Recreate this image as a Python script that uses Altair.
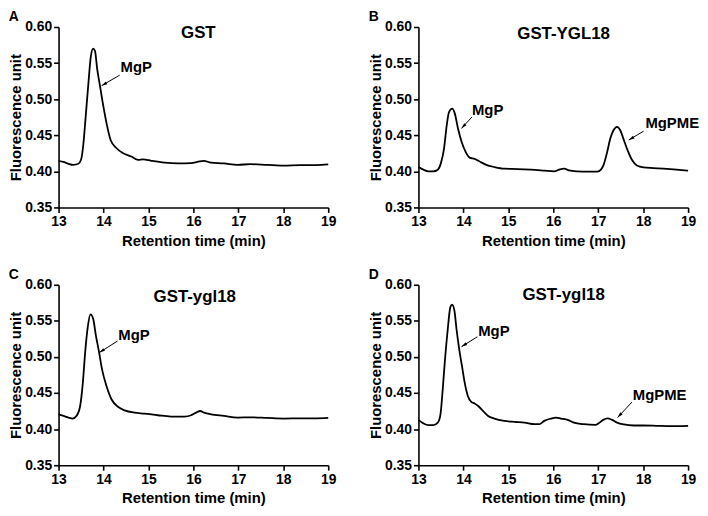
import math
import altair as alt
import pandas as pd

FONT = "Liberation Sans"

# ---------------- data ----------------
A_time = [13.00, 13.11, 13.22, 13.33, 13.44, 13.50, 13.55, 13.60, 13.66, 13.72, 13.77, 13.81, 13.86,
          13.92, 14.00, 14.07, 14.16, 14.29, 14.44, 14.62, 14.77, 14.88, 15.06, 15.36, 15.65, 15.95,
          16.09, 16.23, 16.39, 16.68, 16.98, 17.27, 17.64, 18.01, 18.38, 18.74, 19.00]
A_signal = [0.4146, 0.413, 0.4105, 0.409, 0.4105, 0.416, 0.4365, 0.473, 0.519, 0.560, 0.570, 0.567,
            0.5415, 0.519, 0.489, 0.466, 0.443, 0.432, 0.425, 0.4205, 0.416, 0.4165, 0.4146, 0.412,
            0.411, 0.4115, 0.413, 0.4146, 0.412, 0.411, 0.409, 0.410, 0.409, 0.408, 0.4087, 0.4087, 0.4096]

B_time = [13.00, 13.11, 13.22, 13.33, 13.43, 13.50, 13.57, 13.63, 13.68, 13.75, 13.81, 13.88, 13.96,
          14.05, 14.14, 14.25, 14.36, 14.51, 14.69, 14.91, 15.21, 15.50, 15.80, 16.02, 16.13, 16.24,
          16.35, 16.53, 16.76, 16.98, 17.06, 17.12, 17.20, 17.27, 17.34, 17.42, 17.49, 17.57, 17.65,
          17.75, 17.86, 18.01, 18.23, 18.45, 18.74, 19.00]
B_signal = [0.406, 0.4023, 0.400, 0.400, 0.4023, 0.4114, 0.432, 0.464, 0.482, 0.4868, 0.480, 0.4594,
            0.441, 0.427, 0.419, 0.4174, 0.4137, 0.409, 0.406, 0.4037, 0.4032, 0.4023, 0.401, 0.400,
            0.4023, 0.4037, 0.4014, 0.400, 0.3995, 0.3995, 0.4023, 0.409, 0.427, 0.4457, 0.457, 0.4616,
            0.457, 0.4434, 0.4297, 0.416, 0.4082, 0.4055, 0.4046, 0.4037, 0.4023, 0.401]

C_time = [13.00, 13.11, 13.22, 13.31, 13.40, 13.48, 13.54, 13.59, 13.65, 13.71, 13.77, 13.83, 13.90,
          13.97, 14.07, 14.18, 14.33, 14.47, 14.69, 14.91, 15.21, 15.50, 15.80, 15.95, 16.06, 16.15,
          16.24, 16.39, 16.68, 16.98, 17.27, 17.64, 18.01, 18.38, 18.74, 19.00]
C_signal = [0.4205, 0.4183, 0.416, 0.4146, 0.4183, 0.432, 0.464, 0.505, 0.5416, 0.559, 0.553, 0.530,
            0.507, 0.482, 0.459, 0.441, 0.4306, 0.426, 0.4228, 0.4215, 0.4192, 0.4174, 0.4174, 0.4192,
            0.4228, 0.4251, 0.4228, 0.4205, 0.4183, 0.416, 0.4164, 0.4155, 0.4146, 0.415, 0.415, 0.4155]

D_time = [13.00, 13.11, 13.22, 13.33, 13.43, 13.49, 13.54, 13.59, 13.65, 13.71, 13.75, 13.80, 13.85,
          13.91, 13.97, 14.03, 14.10, 14.18, 14.25, 14.33, 14.44, 14.55, 14.69, 14.91, 15.14, 15.36,
          15.58, 15.69, 15.80, 15.95, 16.06, 16.17, 16.32, 16.46, 16.68, 16.94, 17.01, 17.11, 17.21,
          17.31, 17.42, 17.57, 17.79, 18.01, 18.30, 18.60, 19.00]
D_signal = [0.4128, 0.408, 0.4055, 0.4055, 0.409, 0.4205, 0.4548, 0.496, 0.537, 0.569, 0.5726, 0.5644,
            0.537, 0.5096, 0.4868, 0.464, 0.4457, 0.4374, 0.4356, 0.432, 0.425, 0.4183, 0.4146, 0.4114,
            0.410, 0.409, 0.4068, 0.4068, 0.4114, 0.4146, 0.416, 0.4146, 0.4128, 0.409, 0.4068, 0.4059,
            0.408, 0.4128, 0.415, 0.4128, 0.409, 0.4064, 0.405, 0.405, 0.4046, 0.4041, 0.4046]

panel_letters = ["A", "B", "C", "D"]
panel_titles = ["GST", "GST-YGL18", "GST-ygl18", "GST-ygl18"]
title_x = [16.11, 16.23, 16.03, 16.23]
title_y = [0.585, 0.584, 0.5758, 0.579]

# annotations: panel, label, text position (left, baseline), arrow start, arrow tip
ann_panel = ["A", "B", "B", "C", "D", "D"]
ann_label = ["MgP", "MgP", "MgPME", "MgP", "MgP", "MgPME"]
ann_tx = [14.38, 14.19, 18.05, 14.33, 14.33, 17.77]
ann_ty = [0.537, 0.4776, 0.4594, 0.5233, 0.5292, 0.4397]
ann_x1 = [14.36, 14.19, 18.01, 14.31, 14.31, 17.75]
ann_y1 = [0.5333, 0.4753, 0.4557, 0.5220, 0.5279, 0.4374]
ann_x2 = [13.957, 13.957, 17.68, 13.906, 13.957, 17.43]
ann_y2 = [0.5187, 0.4594, 0.4434, 0.506, 0.5142, 0.416]

x_ticks = [13, 14, 15, 16, 17, 18, 19]
y_ticks = [0.35, 0.40, 0.45, 0.50, 0.55, 0.60]

# ---------------- layout ----------------
W, H = 272, 182
X_DOM = [13, 19]
Y_DOM = [0.35, 0.60]
px_per_x = W / (X_DOM[1] - X_DOM[0])
px_per_y = H / (Y_DOM[1] - Y_DOM[0])

series = {
    "A": (A_time, A_signal),
    "B": (B_time, B_signal),
    "C": (C_time, C_signal),
    "D": (D_time, D_signal),
}

ann = pd.DataFrame({
    "panel": ann_panel, "label": ann_label, "tx": ann_tx, "ty": ann_ty,
    "x1": ann_x1, "y1": ann_y1, "x2": ann_x2, "y2": ann_y2,
})
ann["angle"] = [
    (math.degrees(math.atan2((r.x2 - r.x1) * px_per_x, (r.y2 - r.y1) * px_per_y)) + 360) % 360
    for r in ann.itertuples()
]

xscale = alt.Scale(domain=X_DOM, nice=False, zero=False)
yscale = alt.Scale(domain=Y_DOM, nice=False, zero=False)

xaxis = alt.Axis(values=x_ticks, tickCount=len(x_ticks), format="d", title="Retention time (min)",
                 grid=False, tickSize=5, labelPadding=2, titlePadding=5, labelFlush=False,
                 labelOverlap=False)
yaxis = alt.Axis(values=y_ticks, tickCount=len(y_ticks), format=".2f", title="Fluorescence unit",
                 grid=False, tickSize=5, labelPadding=2, titlePadding=1, labelFlush=False,
                 labelOverlap=False)

ARROW = "M0,0L0.6,2.2L-0.6,2.2Z"


def panel(i):
    letter = panel_letters[i]
    t, v = series[letter]
    assert len(t) == len(v)
    df = pd.DataFrame({"time": t, "signal": v})
    line = alt.Chart(df).mark_line(color="black", strokeWidth=1.8, interpolate="monotone").encode(
        x=alt.X("time:Q", scale=xscale, axis=xaxis),
        y=alt.Y("signal:Q", scale=yscale, axis=yaxis),
    )
    tdf = pd.DataFrame({"x": [title_x[i]], "y": [title_y[i]], "t": [panel_titles[i]]})
    title = alt.Chart(tdf).mark_text(font=FONT, fontWeight="bold", fontSize=17, align="center",
                                     baseline="alphabetic", color="black").encode(
        x=alt.X("x:Q", scale=xscale), y=alt.Y("y:Q", scale=yscale), text="t:N")
    a = ann[ann["panel"] == letter]
    labels = alt.Chart(a).mark_text(font=FONT, fontWeight="bold", fontSize=15, align="left",
                                    baseline="alphabetic", color="black").encode(
        x=alt.X("tx:Q", scale=xscale), y=alt.Y("ty:Q", scale=yscale), text="label:N")
    rules = alt.Chart(a).mark_rule(color="black", strokeWidth=1).encode(
        x=alt.X("x1:Q", scale=xscale), y=alt.Y("y1:Q", scale=yscale), x2="x2:Q", y2="y2:Q")
    heads = alt.Chart(a).mark_point(shape=ARROW, filled=True, color="black", size=28, opacity=1,
                                    strokeWidth=0).encode(
        x=alt.X("x2:Q", scale=xscale), y=alt.Y("y2:Q", scale=yscale),
        angle=alt.Angle("angle:Q", scale=None))
    return alt.layer(line, title, labels, rules, heads).properties(
        width=W, height=H,
        title=alt.TitleParams(letter, anchor="start", frame="bounds", font=FONT, fontSize=14,
                              fontWeight="bold", color="black", offset=-4),
    )


chart = alt.concat(*[panel(i) for i in range(4)], columns=2).properties(
    bounds="flush",
    spacing={"row": 78, "column": 91},
    padding={"left": 0, "top": 0, "right": 0, "bottom": 0},
).configure_view(stroke=None).configure_axis(
    domainColor="black", tickColor="black", domainWidth=1.6, tickWidth=1.6,
    labelFont=FONT, labelFontWeight="bold", labelFontSize=14, labelColor="black",
    titleFont=FONT, titleFontWeight="bold", titleFontSize=15, titleColor="black",
)

chart.save("out.html", embed_options={"renderer": "svg", "actions": False})
